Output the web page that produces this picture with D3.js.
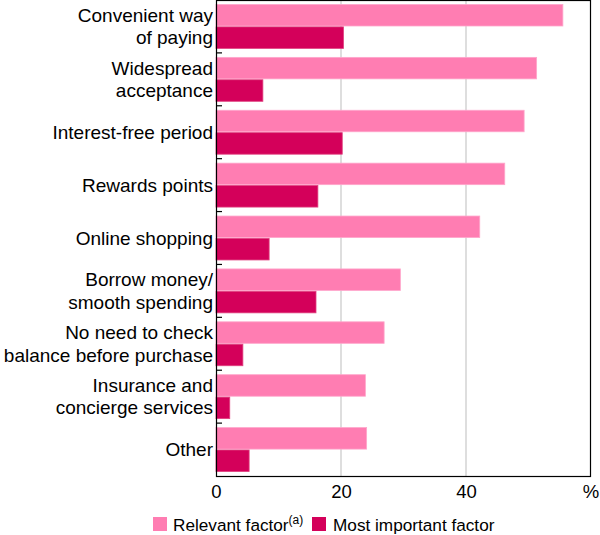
<!DOCTYPE html>
<html><head><meta charset="utf-8">
<script src="https://cdn.jsdelivr.net/npm/d3@7"></script>
<style>body{margin:0;background:#fff}svg{display:block;font-family:"Liberation Sans",Arial,sans-serif}</style>
</head><body><svg id="c" width="600" height="535"></svg>
<script>
const categories = [
  ["Convenient way","of paying"],
  ["Widespread","acceptance"],
  ["Interest-free period"],
  ["Rewards points"],
  ["Online shopping"],
  ["Borrow money/","smooth spending"],
  ["No need to check","balance before purchase"],
  ["Insurance and","concierge services"],
  ["Other"]
];
const relevant = [55.5, 51.3, 49.3, 46.2, 42.2, 29.5, 26.9, 23.9, 24.1];
const mostImportant = [20.4, 7.5, 20.2, 16.3, 8.5, 16.0, 4.3, 2.2, 5.3];
const xTicks = [0, 20, 40];
const seriesNames = ["Relevant factor", "Most important factor"];
const colors = ["#ff7db2", "#d4005a"];

const svg = d3.select("#c");
const m = {l:216, r:591, t:0, b:476};
const x = d3.scaleLinear().domain([0,60]).range([m.l, m.r]);
const y = d3.scaleBand().domain(d3.range(categories.length)).range([m.t, m.b]).paddingInner(0).paddingOuter(0);
const sub = d3.scaleBand().domain([0,1]).range([0, y.bandwidth()]).paddingInner(0.04).paddingOuter(0.2);

// gridlines
svg.append("g").selectAll("line").data([20,40]).join("line")
  .attr("x1", d=>x(d)).attr("x2", d=>x(d)).attr("y1", m.t).attr("y2", m.b)
  .attr("stroke", "#bdbdbd").attr("stroke-width", 1);

// bars
const series = [relevant, mostImportant];
series.forEach((vals, si) => {
  svg.append("g").selectAll("rect").data(vals).join("rect")
    .attr("x", x(0))
    .attr("y", (d,i) => y(i) + sub(si))
    .attr("width", d => x(d) - x(0))
    .attr("height", sub.bandwidth())
    .attr("fill", colors[si])
    .attr("stroke", si === 0 ? "#ffa6cb" : "#e0407f")
    .attr("stroke-width", 0.8);
});

// frame
svg.append("rect").attr("x", m.l+0.5).attr("y", m.t+0.5).attr("width", m.r-m.l-1).attr("height", m.b-m.t)
  .attr("fill","none").attr("stroke","#000").attr("stroke-width",1.2);

// category ticks (inward)
svg.append("g").selectAll("line").data(d3.range(1, categories.length)).join("line")
  .attr("x1", m.l).attr("x2", m.l+6).attr("y1", d=>y(d)).attr("y2", d=>y(d))
  .attr("stroke","#000").attr("stroke-width",1.2);

// category labels
const lab = svg.append("g").attr("font-size", 19).attr("fill","#000").attr("text-anchor","end");
categories.forEach((lines, i) => {
  const cy = y(i) + y.bandwidth()/2;
  const lh = 22.6;
  const t = lab.append("text").attr("x", m.l - 3);
  lines.forEach((s, j) => {
    t.append("tspan").attr("x", m.l - 3)
      .attr("y", cy + (j - (lines.length-1)/2) * lh + 6.5)
      .text(s);
  });
});

// x axis labels
const ax = svg.append("g").attr("font-size", 18.5).attr("text-anchor","middle");
ax.selectAll("text").data(xTicks).join("text")
  .attr("x", d=>x(d)+0.5).attr("y", 498).text(d=>d);
ax.append("text").attr("x", m.r).attr("y", 498).text("%");

// legend
const lg = svg.append("g").attr("font-size", 17.2);
lg.append("rect").attr("x",153).attr("y",517).attr("width",14).attr("height",14).attr("fill",colors[0]);
const t1 = lg.append("text").attr("x",173).attr("y",531);
t1.append("tspan").text(seriesNames[0]);
t1.append("tspan").attr("font-size",12).attr("dy",-7).text("(a)");
lg.append("rect").attr("x",312).attr("y",517).attr("width",14).attr("height",14).attr("fill",colors[1]);
lg.append("text").attr("x",333).attr("y",531).text(seriesNames[1]);
</script></body></html>
